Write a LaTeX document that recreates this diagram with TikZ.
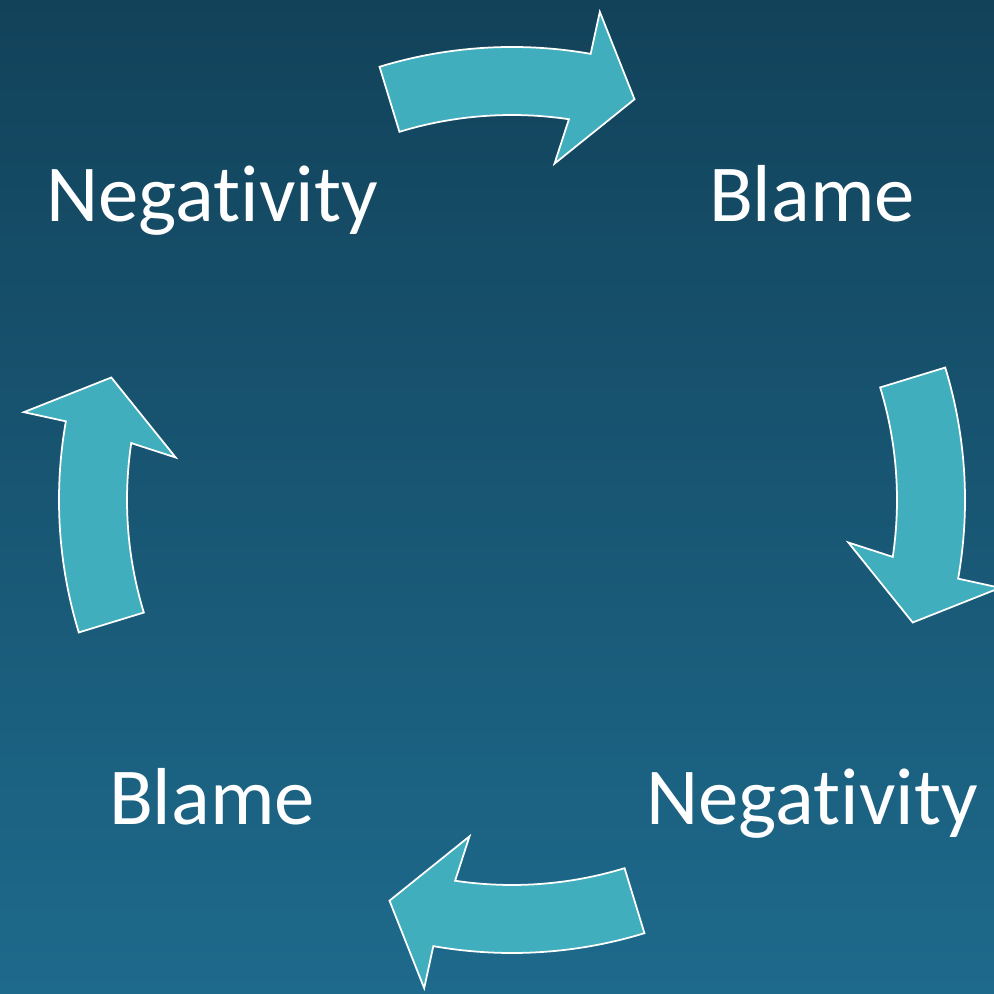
\documentclass[tikz,border=0pt]{standalone}
\usepackage{fontspec}
\setmainfont{Carlito}[Ligatures=NoCommon]
\usepackage{xcolor}
\usetikzlibrary{positioning}
\definecolor{bgtop}{HTML}{12425A}
\definecolor{bgbottom}{HTML}{1E6A8C}
\definecolor{arrowfill}{HTML}{41AEBD}

\begin{document}
\begin{tikzpicture}[x=0.02cm, y=0.02cm,
    cyclearrow/.style={draw=white, line width=1pt, fill=arrowfill, line join=miter},
    word/.style={text=white, font=\fontsize{46}{55}\selectfont, anchor=base},
  ]
  % background
  \shade[top color=bgtop, bottom color=bgbottom] (0,0) rectangle (994,994);
  \useasboundingbox (0,0) rectangle (994,994);
  % four curved block arrows, clockwise round the centre
  \foreach \k in {0,1,2,3} {
    \begin{scope}[shift={(512,494)}, rotate=-90*\k]
      \draw[cyclearrow] (107:453) arc[start angle=107, end angle=80, radius=453]
        -- (79.8:496) -- (73:419) -- (82.8:339) -- (81.5:385)
        arc[start angle=81.5, end angle=107, radius=385] -- cycle;
    \end{scope}
  }
  \node[word] (neg1) at (212,772) {Negativity};
  \node[word] (blame1) at (812,772) {Blame};
  \node[word] (neg2) at (812,169) {Negativity};
  \node[word] (blame2) at (212,169) {Blame};
\end{tikzpicture}
\end{document}
